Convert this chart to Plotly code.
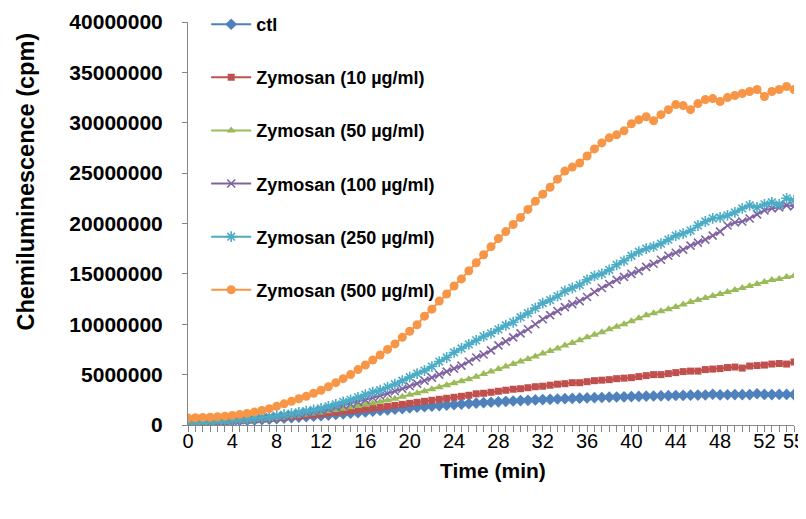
import plotly.graph_objects as go

# 83 readings spread over 0-55 min
n_points = 83
total_min = 55
time_min = [round(i * total_min / (n_points - 1), 4) for i in range(n_points)]

# Values in millions of cpm
ctl = [0.30, 0.31, 0.32, 0.34, 0.36, 0.38, 0.41, 0.44, 0.47, 0.50, 0.54, 0.58, 0.62, 0.67, 0.72,
       0.77, 0.82, 0.87, 0.93, 0.99, 1.05, 1.11, 1.17, 1.23, 1.30, 1.37, 1.44, 1.50, 1.57, 1.63,
       1.70, 1.76, 1.82, 1.88, 1.93, 1.98, 2.03, 2.08, 2.13, 2.18, 2.22, 2.26, 2.30, 2.34, 2.38,
       2.42, 2.45, 2.49, 2.52, 2.55, 2.58, 2.61, 2.64, 2.66, 2.69, 2.71, 2.73, 2.76, 2.78, 2.80,
       2.82, 2.84, 2.86, 2.88, 2.90, 2.91, 2.93, 2.94, 2.96, 2.97, 2.98, 3.05, 2.99, 3.00, 3.02,
       3.01, 3.02, 3.10, 3.03, 3.02, 3.03, 3.03, 3.02]
zym10 = [0.30, 0.31, 0.33, 0.35, 0.38, 0.41, 0.45, 0.49, 0.53, 0.57, 0.62, 0.67, 0.72, 0.78, 0.84,
         0.90, 0.96, 1.02, 1.10, 1.18, 1.26, 1.34, 1.42, 1.50, 1.58, 1.68, 1.75, 1.85, 1.95, 2.05,
         2.15, 2.25, 2.35, 2.45, 2.55, 2.65, 2.75, 2.85, 2.95, 3.10, 3.15, 3.25, 3.35, 3.45, 3.55,
         3.60, 3.70, 3.80, 3.85, 3.95, 4.05, 4.10, 4.20, 4.20, 4.30, 4.40, 4.45, 4.50, 4.60, 4.65,
         4.70, 4.80, 4.90, 5.00, 5.00, 5.10, 5.20, 5.30, 5.35, 5.35, 5.50, 5.55, 5.60, 5.70, 5.75,
         5.65, 5.85, 5.90, 5.95, 6.05, 6.10, 6.05, 6.25]
zym50 = [0.20, 0.22, 0.24, 0.26, 0.29, 0.32, 0.36, 0.40, 0.45, 0.50, 0.56, 0.63, 0.70, 0.78, 0.86,
         0.95, 1.05, 1.15, 1.25, 1.37, 1.50, 1.62, 1.75, 1.88, 2.00, 2.15, 2.30, 2.45, 2.60, 2.80,
         3.00, 3.15, 3.35, 3.55, 3.75, 3.95, 4.15, 4.35, 4.55, 4.80, 5.05, 5.30, 5.55, 5.80, 6.05,
         6.30, 6.55, 6.80, 7.10, 7.35, 7.60, 7.90, 8.15, 8.40, 8.70, 8.95, 9.20, 9.50, 9.75, 10.0,
         10.3, 10.6, 10.9, 11.1, 11.3, 11.5, 11.7, 11.95, 12.2, 12.4, 12.6, 12.8, 13.0, 13.2, 13.4,
         13.6, 13.8, 14.0, 14.2, 14.4, 14.5, 14.7, 14.8]
zym100 = [0.25, 0.27, 0.29, 0.31, 0.34, 0.37, 0.42, 0.47, 0.52, 0.58, 0.65, 0.72, 0.80, 0.90, 1.00,
          1.10, 1.20, 1.32, 1.45, 1.60, 1.78, 1.95, 2.10, 2.30, 2.50, 2.70, 2.90, 3.10, 3.35, 3.60,
          3.85, 4.10, 4.40, 4.70, 5.00, 5.30, 5.60, 5.90, 6.30, 6.70, 7.00, 7.40, 7.90, 8.30, 8.70,
          9.10, 9.50, 10.0, 10.5, 10.9, 11.3, 11.7, 12.0, 12.3, 12.7, 13.2, 13.6, 14.0, 14.4, 14.7,
          15.0, 15.3, 15.7, 16.0, 16.4, 16.8, 17.1, 17.4, 17.8, 18.1, 18.4, 18.8, 19.2, 19.8, 20.1,
          20.2, 20.5, 20.9, 21.3, 21.5, 21.6, 21.8, 21.7]
zym250 = [0.30, 0.32, 0.34, 0.36, 0.40, 0.44, 0.50, 0.55, 0.60, 0.68, 0.75, 0.82, 0.92, 1.02, 1.12,
          1.25, 1.38, 1.50, 1.65, 1.85, 2.05, 2.30, 2.50, 2.75, 3.00, 3.25, 3.45, 3.75, 4.05, 4.40,
          4.75, 5.10, 5.40, 5.80, 6.30, 6.70, 7.20, 7.60, 8.00, 8.40, 8.80, 9.10, 9.50, 9.90, 10.2,
          10.7, 11.1, 11.6, 12.1, 12.4, 12.8, 13.3, 13.6, 13.9, 14.4, 14.8, 15.0, 15.4, 15.9, 16.3,
          16.8, 17.2, 17.5, 17.7, 18.0, 18.4, 18.8, 19.0, 19.3, 19.8, 20.2, 20.5, 20.6, 20.8, 21.1,
          21.5, 21.8, 21.6, 21.9, 22.1, 21.9, 22.5, 22.3]
zym500 = [0.70, 0.72, 0.75, 0.78, 0.82, 0.88, 0.95, 1.05, 1.15, 1.28, 1.45, 1.62, 1.85, 2.10, 2.35,
          2.60, 2.85, 3.15, 3.45, 3.80, 4.20, 4.60, 5.00, 5.50, 5.95, 6.45, 6.95, 7.50, 8.05, 8.70,
          9.30, 9.95, 10.8, 11.5, 12.3, 13.0, 13.8, 14.5, 15.3, 16.1, 16.9, 17.7, 18.5, 19.2, 19.9,
          20.6, 21.4, 22.2, 22.9, 23.6, 24.4, 25.2, 25.6, 26.0, 26.7, 27.4, 28.0, 28.5, 28.8, 29.2,
          29.9, 30.3, 30.6, 30.2, 30.8, 31.3, 31.8, 31.7, 31.3, 31.9, 32.3, 32.4, 32.1, 32.5, 32.7,
          32.9, 33.1, 33.3, 32.6, 33.1, 33.3, 33.6, 33.3]

series_names = ["ctl", "Zymosan (10 µg/ml)", "Zymosan (50 µg/ml)", "Zymosan (100 µg/ml)",
                "Zymosan (250 µg/ml)", "Zymosan (500 µg/ml)"]
series_values = [ctl, zym10, zym50, zym100, zym250, zym500]
series_colors = ["#4F81BD", "#C0504D", "#9BBB59", "#8064A2", "#4BACC6", "#F79646"]
series_symbols = ["diamond", "square", "triangle-up", "x-thin", "asterisk", "circle"]
series_sizes = [9, 7, 8, 8, 9, 9]

y_ticks = [0, 5000000, 10000000, 15000000, 20000000, 25000000, 30000000, 35000000, 40000000]
x_label_every = 6  # a label every 6th reading (~4 min)

FONT = "Liberation Sans, Arial, sans-serif"

fig = go.Figure()
for name, vals, col, sym, sz in zip(series_names, series_values, series_colors,
                                    series_symbols, series_sizes):
    open_sym = sym in ("x-thin", "asterisk")
    fig.add_trace(go.Scatter(
        x=time_min, y=[v * 1e6 for v in vals], name=name, mode="lines+markers",
        legendgroup=name,
        line=dict(color=col, width=2),
        marker=dict(symbol=sym, size=sz, color=col,
                    line=dict(color=col, width=1.6 if open_sym else 0)),
    ))

tick_text = [str(round(t)) if (i % x_label_every == 0 or i == len(time_min) - 1) else ""
             for i, t in enumerate(time_min)]

# The page body adds an 8px offset, so the figure is 8px smaller than the window
fig.update_layout(
    width=798, height=511,
    margin=dict(l=180, r=12, t=14, b=94, autoexpand=False),
    paper_bgcolor="white", plot_bgcolor="white",
    font=dict(family=FONT, color="#000000"),
    showlegend=True,
    legend=dict(x=0.03, y=1.0396, xanchor="left", yanchor="top",
                font=dict(size=18, weight="bold", family=FONT),
                tracegroupgap=26.7, bgcolor="rgba(0,0,0,0)", itemwidth=40, maxheight=500),
    xaxis=dict(
        range=[0, total_min], tickmode="array", tickvals=time_min, ticktext=tick_text,
        ticks="outside", ticklen=6, tickcolor="#868686", tickwidth=1,
        showline=True, linecolor="#868686", linewidth=1, showgrid=False, zeroline=False,
        tickfont=dict(size=20, family=FONT), automargin=False, ticklabelstandoff=-8,
    ),
    yaxis=dict(
        range=[0, 40000000], tickmode="array", tickvals=y_ticks,
        ticktext=[str(v) for v in y_ticks],
        ticks="outside", ticklen=5, tickcolor="#868686", tickwidth=1,
        showline=True, linecolor="#868686", linewidth=1, showgrid=False, zeroline=False,
        tickfont=dict(size=21, weight="bold", family=FONT),
        ticklabelstandoff=15, automargin=False,
    ),
    annotations=[
        dict(text="<b>Chemiluminescence (cpm)</b>", xref="paper", yref="paper",
             x=-0.268, y=0.603, textangle=-90, showarrow=False,
             font=dict(size=23.5, family=FONT), xanchor="center", yanchor="middle"),
        dict(text="<b>Time (min)</b>", xref="paper", yref="paper",
             x=0.503, y=-0.112, showarrow=False,
             font=dict(size=21, family=FONT), xanchor="center", yanchor="middle"),
    ],
)

fig.write_html("out.html")
